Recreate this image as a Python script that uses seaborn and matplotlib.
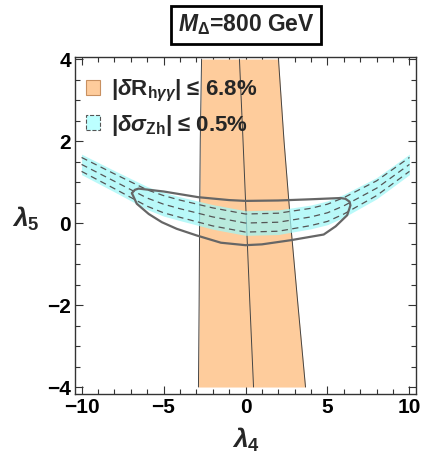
import numpy as np
import pandas as pd
import seaborn as sns
import matplotlib.pyplot as plt
from matplotlib.patches import Patch

# orange band |dR_hgg| <= 6.8% : edges read at these lambda5 values
orange_y = [4, 2, 0, -2, -4]
orange_left = [-2.68, -2.76, -2.80, -2.83, -2.87]
orange_mid = [-0.37, -0.15, 0.06, 0.27, 0.49]
orange_right = [2.01, 2.35, 2.75, 3.20, 3.66]

# cyan band |d sigma_Zh| <= 0.5%
cyan_x = [-10, -8, -6, -5, -4, -2, 0, 2, 4, 5, 6, 8, 10]
cyan_mid = [1.43, 1.02, 0.61, 0.46, 0.35, 0.15, 0.0, 0.02, 0.15, 0.25, 0.42, 0.85, 1.43]
cyan_half = [0.25, 0.26, 0.28, 0.29, 0.29, 0.30, 0.30, 0.30, 0.29, 0.29, 0.28, 0.26, 0.25]
cyan_dash = [0.17, 0.18, 0.2, 0.21, 0.21, 0.22, 0.22, 0.22, 0.21, 0.21, 0.2, 0.18, 0.17]

# closed gray contour
cont_x = [-6.93, -6.75, -6.52, -5.0, -2.87, -1.0, 0.0, 2.0, 4.0, 5.8, 6.1, 6.35, 6.4, 6.2, 5.5, 4.77,
          2.74, 1.0, 0.0, -1.5, -3.0, -4.2, -5.1, -5.9, -6.63, -6.93]
cont_y = [0.73, 0.81, 0.84, 0.77, 0.63, 0.56, 0.54, 0.55, 0.58, 0.61, 0.59, 0.52, 0.43, 0.19, -0.08, -0.28,
          -0.42, -0.52, -0.54, -0.48, -0.30, -0.14, 0.02, 0.22, 0.47, 0.73]

sns.set_style('ticks')
plt.rcParams['font.family'] = ['Liberation Sans', 'DejaVu Sans']
plt.rcParams['font.weight'] = 'bold'
plt.rcParams['mathtext.fontset'] = 'custom'
plt.rcParams['mathtext.rm'] = 'Liberation Sans:bold'
plt.rcParams['mathtext.it'] = 'Liberation Sans:bold:italic'
plt.rcParams['mathtext.bf'] = 'Liberation Sans:bold'

fig = plt.figure(figsize=(4.23, 4.55), dpi=100)
ax = fig.add_axes([75/423, 1-394/455, 341/423, 337/455])

orange = '#FECC9C'
ax.fill_betweenx(orange_y, orange_left, orange_right, color=orange, lw=0, zorder=1)
for edge in (orange_left, orange_mid, orange_right):
    ax.plot(edge, orange_y, color='#444444', lw=0.7, zorder=2)

cx = np.array(cyan_x)
cm = np.array(cyan_mid)
ax.fill_between(cx, cm - np.array(cyan_half), cm + np.array(cyan_half),
                color='#9FF7F7', alpha=0.72, lw=0, zorder=3)
df = pd.DataFrame({'x': cx, 'mid': cm, 'up': cm + np.array(cyan_dash),
                   'lo': cm - np.array(cyan_dash)})
for col in ('up', 'mid', 'lo'):
    sns.lineplot(data=df, x='x', y=col, ax=ax, color='#555555', lw=0.9,
                 ls=(0, (5, 3.5)), zorder=4)

cdf = pd.DataFrame({'x': cont_x, 'y': cont_y})
sns.lineplot(data=cdf, x='x', y='y', sort=False, estimator=None, ax=ax,
             color='#666666', lw=1.6, zorder=5)

ax.set_xlim(-10.4, 10.4)
ax.set_ylim(-4.17, 4.05)
ax.set_xticks([-10, -5, 0, 5, 10])
ax.set_yticks([-4, -2, 0, 2, 4])
ax.set_xticks(np.arange(-10, 11, 1), minor=True)
ax.set_yticks(np.arange(-4, 4.01, 0.5), minor=True)
ax.set_xticklabels(['\u221210', '\u22125', '0', '5', '10'])
ax.set_yticklabels(['\u22124', '\u22122', '0', '2', '4'])
ax.tick_params(which='both', direction='in', top=True, right=True, color='#333333',
               labelsize=15, labelcolor='black', width=0.8)
ax.tick_params(which='major', length=6, pad=3)
ax.tick_params(which='minor', length=3.5)
for s in ax.spines.values():
    s.set_color('#333333')
    s.set_linewidth(1.0)

ax.set_xlabel(r'$\lambda_4$', fontsize=19)
ax.set_ylabel(r'$\lambda_5$', fontsize=19, rotation=0, va='center')
ax.xaxis.set_label_coords(0.5, -0.095)
ax.yaxis.set_label_coords(-0.145, 0.52)

handles = [Patch(fc=orange, ec='#C89060', lw=0.8),
           Patch(fc='#BCFFFF', ec='#555555', lw=0.8, ls='--')]
labels = [r'$|\delta\mathrm{R}_{\mathrm{h}\gamma\gamma}|$' + ' \u2264 6.8%',
          r'$|\delta\sigma_{\mathrm{Zh}}|$' + ' \u2264 0.5%']
ax.legend(handles, labels, loc='upper left', bbox_to_anchor=(-0.024, 0.995), frameon=False,
          prop={'size': 16, 'weight': 'bold'}, handlelength=0.65, handleheight=0.65,
          handletextpad=0.5, labelspacing=0.4, borderaxespad=0.45)

fig.text(246/423, 1-25/455, r'$M_{\Delta}$=800 GeV', ha='center', va='center',
         fontsize=16.5, fontweight='bold',
         bbox=dict(boxstyle='square,pad=0.3', fc='white', ec='black', lw=2))

fig.savefig('out.png', dpi=100)
